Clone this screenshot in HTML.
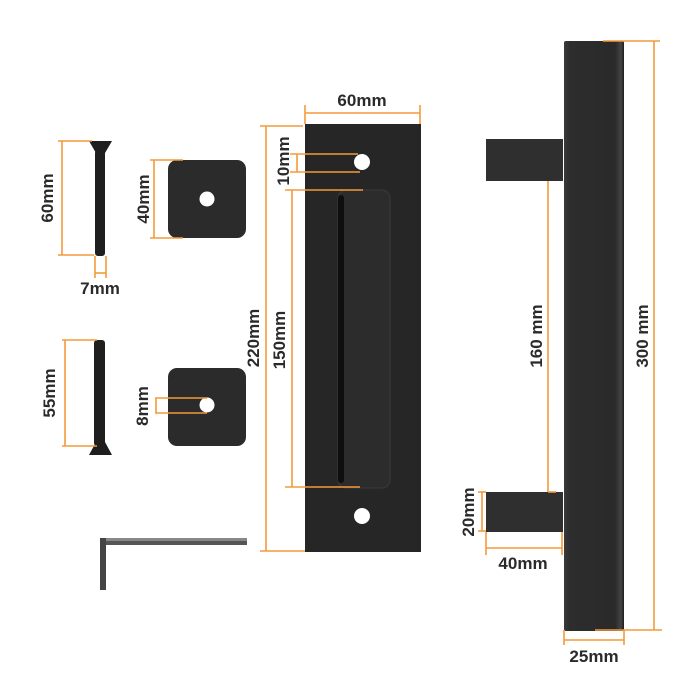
<!DOCTYPE html>
<html><head><meta charset="utf-8"><style>
html,body{margin:0;padding:0;background:#fff;}
svg{display:block}
text{font-family:"Liberation Sans",sans-serif;font-weight:bold;fill:#2a2a2a;font-size:17px;}
</style></head><body>
<svg width="700" height="700" viewBox="0 0 700 700" xmlns="http://www.w3.org/2000/svg">
<defs>
<linearGradient id="bar" x1="0" x2="1">
<stop offset="0" stop-color="#3a3a3a"/><stop offset="0.1" stop-color="#2d2d2d"/><stop offset="0.85" stop-color="#2a2a2a"/><stop offset="0.95" stop-color="#444"/><stop offset="1" stop-color="#1c1c1c"/>
</linearGradient>
</defs>
<polygon points="89,141 112,141 105,153 96,153" fill="#1e1e1e"/>
<rect x="95" y="150" width="10" height="106" rx="3" fill="#1f1f1f"/>
<rect x="94" y="340" width="11" height="106" rx="3" fill="#1f1f1f"/>
<polygon points="96,442 105,442 112,455 89,455" fill="#1e1e1e"/>
<rect x="168" y="160" width="78" height="78" rx="9" fill="#2b2b2b"/>
<circle cx="207" cy="199" r="7.5" fill="#fff"/>
<rect x="168" y="368" width="78" height="78" rx="9" fill="#2b2b2b"/>
<circle cx="207" cy="405" r="7.5" fill="#fff"/>
<rect x="100" y="538" width="147" height="7" fill="#555"/>
<rect x="100" y="538" width="147" height="3" fill="#888"/>
<rect x="100" y="538" width="6" height="52" fill="#444"/>
<rect x="305" y="124" width="116" height="428" fill="#262626"/>
<circle cx="362" cy="162" r="8" fill="#fff"/>
<circle cx="362" cy="516" r="8" fill="#fff"/>
<rect x="338" y="190" width="52" height="298" rx="8" fill="#2c2c2c" stroke="#3a3a3a"/>
<rect x="338" y="195" width="6" height="288" rx="3" fill="#0e0e0e"/>
<rect x="486" y="139" width="77" height="42" fill="#2f2f2f"/>
<rect x="486" y="492" width="77" height="40" fill="#2f2f2f"/>
<rect x="564" y="41" width="60" height="590" rx="2" fill="url(#bar)"/>
<g stroke="#f39a3a" stroke-width="1.6" fill="none">
<line x1="58" y1="141" x2="92" y2="141"/><line x1="58" y1="255" x2="94" y2="255"/><line x1="62" y1="141" x2="62" y2="255"/>
<line x1="95" y1="256" x2="95" y2="278"/><line x1="106" y1="256" x2="106" y2="278"/><line x1="95" y1="273" x2="106" y2="273"/>
<line x1="62" y1="340" x2="97" y2="340"/><line x1="62" y1="446" x2="97" y2="446"/><line x1="65" y1="340" x2="65" y2="446"/>
<line x1="150" y1="160" x2="183" y2="160"/><line x1="150" y1="238" x2="183" y2="238"/><line x1="154" y1="160" x2="154" y2="238"/>
<line x1="155" y1="398" x2="207" y2="398"/><line x1="155" y1="413" x2="207" y2="413"/><line x1="156" y1="398" x2="156" y2="413"/>
<line x1="305" y1="105" x2="305" y2="124"/><line x1="420" y1="105" x2="420" y2="124"/><line x1="305" y1="113" x2="420" y2="113"/>
<line x1="260" y1="126" x2="303" y2="126"/><line x1="260" y1="551" x2="305" y2="551"/><line x1="266" y1="126" x2="266" y2="551"/>
<line x1="290" y1="154" x2="358" y2="154"/><line x1="290" y1="172" x2="360" y2="172"/><line x1="297" y1="154" x2="297" y2="172"/>
<line x1="285" y1="190" x2="363" y2="190"/><line x1="285" y1="487" x2="360" y2="487"/><line x1="292" y1="190" x2="292" y2="487"/>
<line x1="603" y1="41" x2="660" y2="41"/><line x1="595" y1="630" x2="662" y2="630"/><line x1="654" y1="41" x2="654" y2="630"/>
<line x1="548" y1="181" x2="548" y2="492"/><line x1="548" y1="492" x2="556" y2="492"/>
<line x1="478" y1="492" x2="486" y2="492"/><line x1="478" y1="531" x2="486" y2="531"/><line x1="482" y1="492" x2="482" y2="531"/>
<line x1="486" y1="532" x2="486" y2="555"/><line x1="562" y1="532" x2="562" y2="555"/><line x1="486" y1="548" x2="562" y2="548"/>
<line x1="564" y1="630" x2="564" y2="645"/><line x1="624" y1="630" x2="624" y2="645"/><line x1="564" y1="640" x2="624" y2="640"/>
</g>
<text x="100" y="294" text-anchor="middle">7mm</text>
<text transform="translate(53,198) rotate(-90)" text-anchor="middle">60mm</text>
<text transform="translate(55,393) rotate(-90)" text-anchor="middle">55mm</text>
<text transform="translate(149,199) rotate(-90)" text-anchor="middle">40mm</text>
<text transform="translate(148,406) rotate(-90)" text-anchor="middle">8mm</text>
<text x="362" y="106" text-anchor="middle">60mm</text>
<text transform="translate(259,338) rotate(-90)" text-anchor="middle">220mm</text>
<text transform="translate(289,161) rotate(-90)" text-anchor="middle">10mm</text>
<text transform="translate(285,340) rotate(-90)" text-anchor="middle">150mm</text>
<text transform="translate(542,336) rotate(-90)" text-anchor="middle">160 mm</text>
<text transform="translate(648,336) rotate(-90)" text-anchor="middle">300 mm</text>
<text transform="translate(474,512) rotate(-90)" text-anchor="middle">20mm</text>
<text x="523" y="569" text-anchor="middle">40mm</text>
<text x="594" y="662" text-anchor="middle">25mm</text>
</svg>
</body></html>
